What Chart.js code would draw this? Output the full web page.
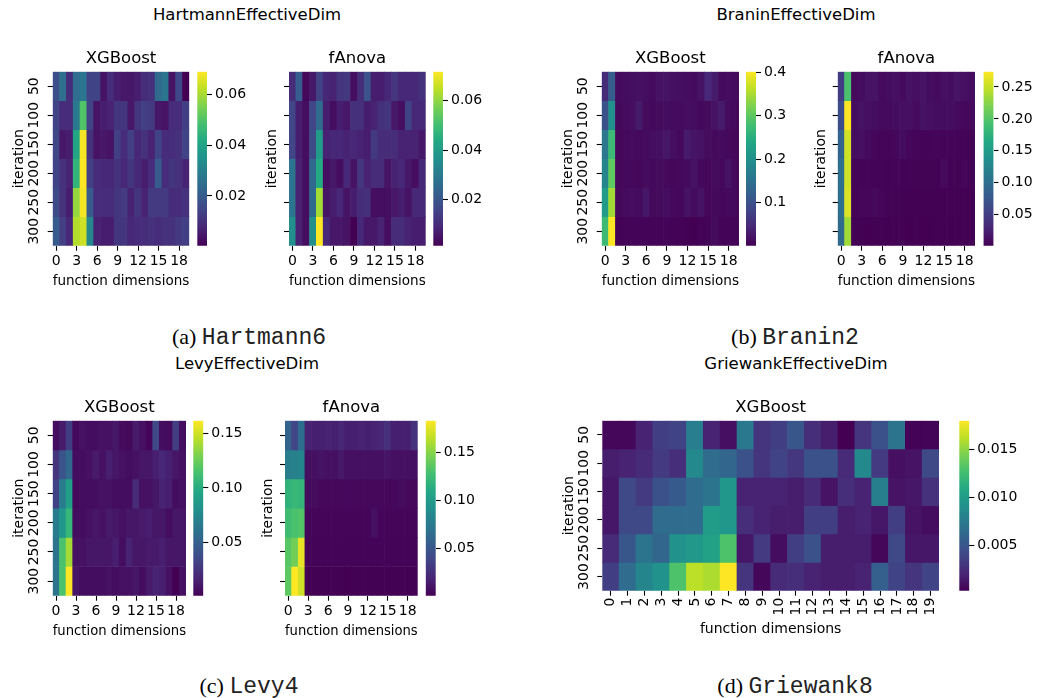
<!DOCTYPE html>
<html>
<head>
<meta charset="utf-8">
<script src="https://cdn.jsdelivr.net/npm/chart.js@4.4.1/dist/chart.umd.min.js"></script>
<style>
  body { margin: 0; background: #fff; }
  #fig { position: relative; width: 1039px; height: 698px; overflow: hidden; background: #fff; }
  #fig canvas { position: absolute; left: 0; top: 0; }
  .sup { position: absolute; font: 16.5px 'DejaVu Sans'; line-height: 1; color: #000; transform: translate(-50%, -50%); white-space: nowrap; }
  .cap { position: absolute; font: 22px 'Liberation Serif'; line-height: 1; color: #000; transform: translate(-50%, -50%); white-space: nowrap; }
  .cap span { font-family: 'Liberation Mono'; font-size: 23px; color: #222; }
</style>
</head>
<body>
<div id="fig">
  <div class="sup" style="left:247px;top:15px">HartmannEffectiveDim</div>
  <div class="sup" style="left:796px;top:15px">BraninEffectiveDim</div>
  <div class="sup" style="left:247px;top:364px">LevyEffectiveDim</div>
  <div class="sup" style="left:796px;top:364px">GriewankEffectiveDim</div>
  <div class="cap" style="left:249px;top:338px">(a) <span>Hartmann6</span></div>
  <div class="cap" style="left:795px;top:338px">(b) <span>Branin2</span></div>
  <div class="cap" style="left:249px;top:687px">(c) <span>Levy4</span></div>
  <div class="cap" style="left:795px;top:687px">(d) <span>Griewank8</span></div>
</div>
<script>
// axes
const dims = ['0','1','2','3','4','5','6','7','8','9','10','11','12','13','14','15','16','17','18','19'];
const iterations = ['50','100','150','200','250','300'];

// importance per iteration row (50..300) and function dimension (0..19)
const hartmannXgb = [
  [0.017,0.025,0.009,0.025,0.027,0.014,0.014,0.004,0.009,0.006,0.005,0.005,0.006,0.009,0.010,0.024,0.027,0.004,0.015,0.0004],
  [0.014,0.009,0.009,0.028,0.050,0.014,0.004,0.006,0.007,0.011,0.011,0.005,0.011,0.013,0.012,0.005,0.004,0.009,0.009,0.013],
  [0.015,0.005,0.006,0.041,0.068,0.010,0.004,0.005,0.004,0.013,0.009,0.013,0.008,0.010,0.007,0.014,0.009,0.009,0.010,0.014],
  [0.014,0.010,0.007,0.045,0.069,0.013,0.009,0.008,0.008,0.010,0.008,0.011,0.008,0.006,0.009,0.020,0.009,0.011,0.010,0.007],
  [0.016,0.010,0.006,0.058,0.068,0.020,0.009,0.009,0.009,0.011,0.012,0.007,0.011,0.007,0.012,0.012,0.012,0.009,0.009,0.010],
  [0.020,0.013,0.008,0.061,0.064,0.032,0.007,0.006,0.006,0.011,0.011,0.008,0.009,0.009,0.010,0.009,0.010,0.010,0.012,0.013]
];
const hartmannFanova = [
  [0.010,0.022,0.003,0.006,0.015,0.009,0.008,0.012,0.013,0.004,0.010,0.019,0.007,0.007,0.009,0.012,0.009,0.009,0.009,0.011],
  [0.016,0.007,0.004,0.016,0.026,0.007,0.004,0.007,0.006,0.011,0.011,0.007,0.008,0.011,0.012,0.006,0.004,0.015,0.009,0.009],
  [0.016,0.007,0.004,0.017,0.040,0.008,0.009,0.009,0.008,0.009,0.008,0.007,0.013,0.010,0.010,0.010,0.008,0.008,0.008,0.006],
  [0.029,0.008,0.004,0.025,0.044,0.004,0.006,0.004,0.009,0.005,0.012,0.008,0.010,0.010,0.005,0.008,0.009,0.006,0.004,0.009],
  [0.029,0.008,0.004,0.025,0.062,0.005,0.007,0.009,0.005,0.007,0.010,0.011,0.004,0.004,0.004,0.006,0.007,0.005,0.009,0.009],
  [0.036,0.008,0.004,0.036,0.0717,0.009,0.006,0.006,0.005,0.0013,0.009,0.006,0.006,0.008,0.004,0.010,0.010,0.008,0.007,0.007]
];
const braninXgb = [
  [0.050,0.120,0.012,0.014,0.016,0.018,0.015,0.012,0.020,0.022,0.018,0.015,0.014,0.012,0.020,0.045,0.030,0.012,0.014,0.012],
  [0.100,0.200,0.010,0.012,0.015,0.030,0.012,0.010,0.012,0.014,0.012,0.012,0.015,0.014,0.010,0.012,0.020,0.030,0.012,0.010],
  [0.160,0.270,0.008,0.010,0.012,0.010,0.012,0.015,0.018,0.025,0.015,0.010,0.030,0.022,0.020,0.012,0.010,0.012,0.010,0.008],
  [0.180,0.300,0.008,0.010,0.010,0.008,0.012,0.010,0.012,0.010,0.008,0.010,0.012,0.020,0.010,0.008,0.012,0.010,0.020,0.010],
  [0.220,0.345,0.010,0.012,0.015,0.012,0.025,0.010,0.012,0.015,0.010,0.008,0.020,0.012,0.020,0.008,0.010,0.008,0.010,0.010],
  [0.270,0.401,0.003,0.004,0.005,0.004,0.005,0.004,0.004,0.004,0.003,0.003,0.002,0.0007,0.003,0.004,0.012,0.004,0.004,0.005]
];
const braninFanova = [
  [0.050,0.195,0.008,0.010,0.015,0.015,0.008,0.010,0.012,0.008,0.014,0.012,0.015,0.010,0.008,0.012,0.010,0.015,0.012,0.010],
  [0.066,0.274,0.010,0.014,0.012,0.010,0.008,0.008,0.010,0.012,0.012,0.008,0.014,0.012,0.010,0.010,0.010,0.008,0.006,0.008],
  [0.088,0.255,0.010,0.012,0.008,0.006,0.005,0.005,0.006,0.010,0.006,0.005,0.004,0.004,0.005,0.004,0.004,0.004,0.004,0.003],
  [0.100,0.255,0.004,0.004,0.005,0.004,0.004,0.003,0.004,0.003,0.004,0.003,0.003,0.003,0.003,0.008,0.003,0.003,0.006,0.003],
  [0.100,0.260,0.004,0.006,0.006,0.008,0.005,0.003,0.003,0.002,0.002,0.002,0.002,0.002,0.002,0.002,0.002,0.002,0.002,0.002],
  [0.095,0.235,0.002,0.002,0.001,0.002,0.002,0.001,0.002,0.002,0.001,0.002,0.001,0.001,0.002,0.002,0.001,0.002,0.002,0.002]
];
const levyXgb = [
  [0.006,0.012,0.030,0.004,0.008,0.006,0.006,0.008,0.008,0.010,0.005,0.004,0.012,0.008,0.002,0.035,0.006,0.005,0.030,0.006],
  [0.025,0.042,0.055,0.006,0.006,0.008,0.012,0.008,0.014,0.010,0.008,0.006,0.008,0.010,0.010,0.014,0.018,0.015,0.010,0.008],
  [0.032,0.068,0.092,0.004,0.006,0.006,0.006,0.008,0.008,0.006,0.006,0.006,0.020,0.008,0.008,0.010,0.016,0.014,0.006,0.008],
  [0.068,0.085,0.107,0.006,0.006,0.008,0.010,0.008,0.012,0.010,0.008,0.010,0.010,0.012,0.014,0.010,0.010,0.006,0.010,0.010],
  [0.062,0.115,0.140,0.008,0.008,0.010,0.010,0.010,0.010,0.014,0.006,0.016,0.010,0.010,0.012,0.012,0.014,0.010,0.010,0.010],
  [0.062,0.115,0.162,0.010,0.006,0.006,0.006,0.006,0.008,0.006,0.008,0.008,0.010,0.006,0.012,0.016,0.014,0.008,0.0005,0.008]
];
const levyFanova = [
  [0.058,0.038,0.065,0.018,0.016,0.016,0.018,0.016,0.020,0.016,0.016,0.018,0.016,0.018,0.020,0.025,0.016,0.016,0.016,0.026],
  [0.078,0.080,0.083,0.008,0.008,0.010,0.008,0.008,0.012,0.008,0.008,0.008,0.008,0.008,0.008,0.010,0.008,0.008,0.008,0.008],
  [0.118,0.122,0.120,0.006,0.006,0.004,0.004,0.004,0.004,0.004,0.004,0.004,0.004,0.004,0.004,0.004,0.004,0.006,0.004,0.004],
  [0.126,0.130,0.133,0.003,0.003,0.003,0.003,0.003,0.003,0.003,0.003,0.003,0.003,0.008,0.003,0.003,0.003,0.003,0.003,0.003],
  [0.135,0.143,0.177,0.002,0.002,0.002,0.002,0.002,0.002,0.002,0.002,0.002,0.002,0.002,0.002,0.002,0.002,0.002,0.002,0.002],
  [0.137,0.183,0.170,0.001,0.001,0.001,0.001,0.001,0.001,0.0003,0.001,0.001,0.001,0.001,0.001,0.001,0.001,0.001,0.001,0.001]
];
const griewankXgb = [
  [0.0006,0.0006,0.0020,0.0035,0.0038,0.0077,0.0020,0.0010,0.0074,0.0030,0.0035,0.0050,0.0026,0.0017,0.0003,0.0030,0.0047,0.0070,0.0004,0.0005],
  [0.0017,0.0020,0.0024,0.0033,0.0026,0.0086,0.0065,0.0061,0.0047,0.0030,0.0038,0.0031,0.0047,0.0047,0.0024,0.0086,0.0033,0.0010,0.0012,0.0042],
  [0.0014,0.0042,0.0033,0.0047,0.0053,0.0065,0.0070,0.0095,0.0020,0.0020,0.0020,0.0017,0.0024,0.0012,0.0026,0.0020,0.0079,0.0012,0.0014,0.0028],
  [0.0014,0.0042,0.0042,0.0065,0.0065,0.0065,0.0100,0.0095,0.0026,0.0020,0.0017,0.0017,0.0035,0.0035,0.0017,0.0020,0.0014,0.0035,0.0012,0.0009],
  [0.0024,0.0050,0.0070,0.0061,0.0092,0.0097,0.0104,0.0130,0.0014,0.0033,0.0009,0.0035,0.0047,0.0017,0.0017,0.0017,0.0006,0.0042,0.0014,0.0014],
  [0.0035,0.0065,0.0083,0.0092,0.0130,0.0162,0.0158,0.0180,0.0030,0.0006,0.0024,0.0026,0.0020,0.0017,0.0017,0.0020,0.0056,0.0038,0.0030,0.0038]
];

// colorbar tick labels
const hartmannXgbTicks = ['0.02', '0.04', '0.06'];
const hartmannFanovaTicks = ['0.02', '0.04', '0.06'];
const braninXgbTicks = ['0.1', '0.2', '0.3', '0.4'];
const braninFanovaTicks = ['0.05', '0.10', '0.15', '0.20', '0.25'];
const levyXgbTicks = ['0.05', '0.10', '0.15'];
const levyFanovaTicks = ['0.05', '0.10', '0.15'];
const griewankXgbTicks = ['0.005', '0.010', '0.015'];

Chart.defaults.font.family = "'DejaVu Sans', sans-serif";
Chart.defaults.font.size = 14;
Chart.defaults.color = '#000';

// viridis colormap
const viridisStops = ['#440154', '#482475', '#414487', '#355f8d', '#2a788e', '#21918c',
  '#22a884', '#44bf70', '#7ad151', '#bddf26', '#fde725'];
function hex(c) { return [1, 3, 5].map(i => parseInt(c.substr(i, 2), 16)); }
function viridis(t) {
  t = Math.max(0, Math.min(1, t)) * 10;
  const i = Math.min(9, Math.floor(t)), f = t - i;
  const a = hex(viridisStops[i]), b = hex(viridisStops[i + 1]);
  const c = a.map((v, k) => Math.round(v + (b[k] - v) * f));
  return 'rgb(' + c.join(',') + ')';
}

// title centred over the plot area, like matplotlib
const panelTitle = {
  id: 'panelTitle',
  afterDraw(chart, args, opts) {
    if (!opts.text) return;
    const { ctx, chartArea: a } = chart;
    ctx.save();
    ctx.font = "16.5px 'DejaVu Sans'";
    ctx.fillStyle = '#000';
    ctx.textAlign = 'center';
    ctx.textBaseline = 'middle';
    ctx.fillText(opts.text, (a.left + a.right) / 2, a.top - 13);
    ctx.restore();
  }
};

const fig = document.getElementById('fig');
function addCanvas() {
  const c = document.createElement('canvas');
  c.width = 1039; c.height = 698;
  fig.appendChild(c);
  return c;
}

// move the plot area onto its place in the figure
function fitArea(chart, pad, box) {
  for (let k = 0; k < 3; k++) {
    const a = chart.chartArea;
    pad.left += box[0] - a.left;
    pad.top += box[1] - a.top;
    pad.right += a.right - box[2];
    pad.bottom += a.bottom - box[3];
    chart.update();
  }
}

const tickGrid = {
  display: true, drawOnChartArea: false, drawTicks: true,
  tickLength: 5, tickWidth: 1.1, tickColor: '#000', offset: false
};

function colorbar(p, vmin, vmax) {
  const box = [p.cb[0], p.box[1], p.cb[1], p.box[3]];
  const pad = { left: box[0], top: box[1], right: 1039 - box[2] - 60, bottom: 698 - box[3] };
  const values = p.ticks.map(Number);
  const chart = new Chart(addCanvas(), {
    type: 'bar',
    data: {
      labels: [''],
      datasets: [{
        data: [[vmin, vmax]],
        backgroundColor: ctx => {
          const a = ctx.chart.chartArea;
          if (!a) return viridisStops[5];
          const g = ctx.chart.ctx.createLinearGradient(0, a.bottom, 0, a.top);
          viridisStops.forEach((c, i) => g.addColorStop(i / 10, c));
          return g;
        },
        borderWidth: 0, barPercentage: 1, categoryPercentage: 1
      }]
    },
    options: {
      responsive: false, animation: false, events: [],
      layout: { padding: pad },
      plugins: { legend: { display: false }, tooltip: { enabled: false } },
      scales: {
        x: { display: false },
        y: {
          position: 'right', min: vmin, max: vmax,
          afterBuildTicks: ax => { ax.ticks = values.map(v => ({ value: v })); },
          afterFit: ax => { ax.width = 60; },
          grid: tickGrid, border: { display: false },
          ticks: { padding: 3, callback: v => p.ticks[values.indexOf(v)] }
        }
      }
    }
  });
  fitArea(chart, pad, box);
}

function heatmap(p) {
  const flat = p.data.flat();
  const vmin = Math.min(...flat), vmax = Math.max(...flat);
  const pad = { left: Math.max(0, p.box[0] - 50), top: p.box[1], right: 1039 - p.box[2], bottom: Math.max(0, 698 - p.box[3] - 60) };
  const chart = new Chart(addCanvas(), {
    type: 'bar',
    data: {
      labels: dims,
      datasets: p.data.map((row, r) => ({
        label: iterations[r],
        data: row.map(() => 1),
        backgroundColor: row.map(v => viridis((v - vmin) / (vmax - vmin))),
        borderWidth: 0, barPercentage: 1, categoryPercentage: 1
      }))
    },
    options: {
      responsive: false, animation: false, events: [],
      layout: { padding: pad },
      plugins: { legend: { display: false }, tooltip: { enabled: false }, panelTitle: { text: p.title } },
      scales: {
        x: {
          stacked: true, offset: true,
          afterBuildTicks: ax => { if (!p.allX) ax.ticks = ax.ticks.filter(t => t.value % 3 === 0); },
          grid: tickGrid, border: { display: false },
          ticks: { autoSkip: false, minRotation: p.allX ? 90 : 0, maxRotation: p.allX ? 90 : 0, padding: 2 },
          title: { display: true, text: 'function dimensions', padding: { top: p.allX ? 3 : 1, bottom: 0 } }
        },
        y: {
          type: 'linear', stacked: true, reverse: true, min: 0, max: 6,
          afterBuildTicks: ax => { ax.ticks = iterations.map((_, i) => ({ value: i + 0.5 })); },
          grid: tickGrid, border: { display: false },
          ticks: {
            display: p.yLabels, minRotation: 90, maxRotation: 90, crossAlign: 'center', padding: 0,
            callback: v => iterations[Math.floor(v)]
          },
          title: { display: true, text: 'iteration', padding: { top: 0, bottom: 3 } }
        }
      }
    },
    plugins: [panelTitle]
  });
  fitArea(chart, pad, p.box);
  colorbar(p, vmin, vmax);
}

[
  { data: hartmannXgb, title: 'XGBoost', box: [52.7, 71.7, 189.3, 245.7], cb: [197.3, 207], yLabels: true, ticks: hartmannXgbTicks },
  { data: hartmannFanova, title: 'fAnova', box: [289, 71.7, 425.7, 245.7], cb: [433.3, 443], yLabels: false, ticks: hartmannFanovaTicks },
  { data: braninXgb, title: 'XGBoost', box: [601.7, 71.7, 739, 245.7], cb: [746, 756], yLabels: true, ticks: braninXgbTicks },
  { data: braninFanova, title: 'fAnova', box: [837.7, 71.7, 975, 245.7], cb: [983.5, 993.5], yLabels: false, ticks: braninFanovaTicks },
  { data: levyXgb, title: 'XGBoost', box: [52.7, 420.7, 186, 595.7], cb: [193.3, 203.3], yLabels: true, ticks: levyXgbTicks },
  { data: levyFanova, title: 'fAnova', box: [285, 420.7, 417.7, 595.7], cb: [425.7, 435.7], yLabels: false, ticks: levyFanovaTicks },
  { data: griewankXgb, title: 'XGBoost', box: [602.3, 420.7, 939, 590.7], cb: [959.3, 969.3], yLabels: true, allX: true, ticks: griewankXgbTicks }
].forEach(heatmap);
</script>
</body>
</html>
